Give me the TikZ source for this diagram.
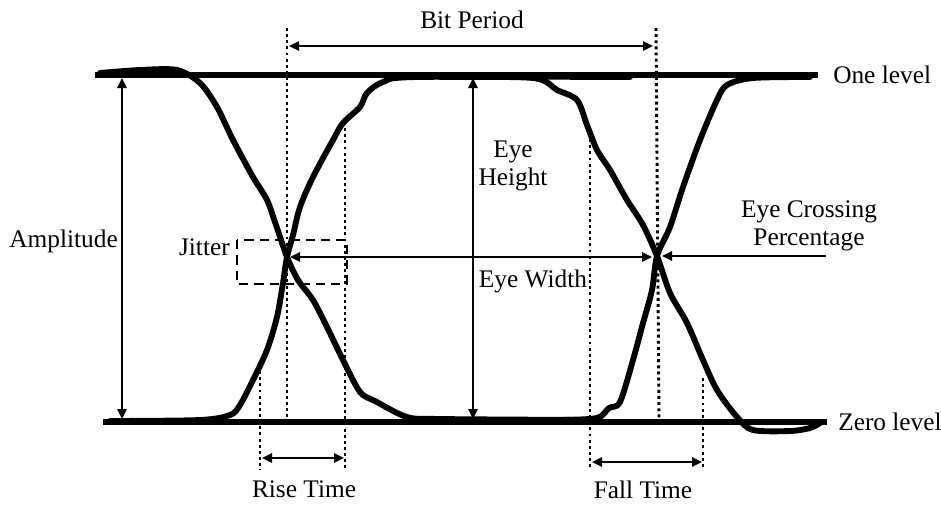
\documentclass[tikz,border=0pt]{standalone}
\usepackage{fontspec}
\setmainfont{Liberation Serif}
\usetikzlibrary{arrows.meta}

\begin{document}
\begin{tikzpicture}[
    x=0.75pt, y=-0.75pt,
    lbl/.style={font=\fontsize{19}{21}\selectfont, inner sep=0pt, align=center},
    level/.style={line width=4.2pt},
    trace/.style={line width=4.4pt, line join=round, line cap=round},
    guide/.style={line width=2.2pt, dash pattern=on 2.2pt off 2.4pt},
    box/.style={line width=1.8pt, dash pattern=on 7pt off 4.5pt},
    dim/.style={{Triangle[length=7.5pt,width=7pt]}-{Triangle[length=7.5pt,width=7pt]}, line width=1.5pt},
    one/.style={-{Triangle[length=7.5pt,width=7pt]}, line width=1.5pt}
]
\useasboundingbox (0,0) rectangle (941,504);

% levels
\coordinate (oneL) at (95,75);   \coordinate (oneR) at (818,75);
\coordinate (zeroL) at (103,422); \coordinate (zeroR) at (827,422);
\draw[level] (oneL) -- (oneR);
\draw[level] (zeroL) -- (zeroR);
\node[lbl, anchor=west] (onelbl) at (833,75) {One level};
\node[lbl, anchor=west] (zerolbl) at (838,422) {Zero level};

% eye traces
\draw[trace] plot[smooth, tension=0.5] coordinates {(100,73) (140,70) (177,70) (200,83) (217,107) (233,140)
  (253,177) (267,200) (276,225) (287,257) (298,280) (313,300) (327,327) (343,360) (360,392)
  (375,401) (407,417) (440,419) (590,420)};
\draw[trace] plot[smooth, tension=0.5] coordinates {(110,421) (200,420) (230,415) (240,405) (253,380)
  (267,350) (277,317) (283,283) (287,257) (293,235) (300,207) (313,177) (333,140) (343,123)
  (360,107) (367,93) (383,82) (417,77) (630,77)};
\draw[trace] plot[smooth, tension=0.5] coordinates {(440,77) (533,78) (557,90) (577,100) (587,125)
  (597,150) (610,170) (627,200) (643,225) (657,256) (670,293) (687,323) (703,360) (717,390)
  (737,417) (753,430) (790,431) (810,428) (820,423)};
\draw[trace] plot[smooth, tension=0.5] coordinates {(560,420) (597,418) (609,408) (620,402) (633,360)
  (643,323) (652,290) (657,256) (670,227) (683,187) (700,140) (717,100) (727,85) (753,78) (810,77)};

% guides
\draw[guide] (287,28) -- (287,418);
\draw[guide] (656,28) -- (659,418);
\draw[guide] (345,122) -- (345,470);
\draw[guide] (260,365) -- (260,470);
\draw[guide] (590,133) -- (590,470);
\draw[guide] (703,378) -- (703,470);

% dimensions
\coordinate (bpL) at (289,46);  \coordinate (bpR) at (653,46);
\draw[dim] (bpL) -- (bpR);
\node[lbl] (bitperiod) at (472,20) {Bit Period};

\coordinate (ampT) at (122,78); \coordinate (ampB) at (122,419);
\draw[dim] (ampT) -- (ampB);
\node[lbl, anchor=east] (amplitude) at (118,241) {Amplitude};

\coordinate (ehT) at (473,78); \coordinate (ehB) at (473,419);
\draw[dim] (ehT) -- (ehB);
\node[lbl] (eyeheight) at (513,166) {Eye\\Height};

\coordinate (ewL) at (290,257); \coordinate (ewR) at (652,257);
\draw[dim] (ewL) -- (ewR);
\node[lbl] (eyewidth) at (533,281) {Eye Width};

\coordinate (ecS) at (826,256); \coordinate (ecE) at (662,256);
\draw[one] (ecS) -- (ecE);
\node[lbl] (crossing) at (809,226) {Eye Crossing\\Percentage};

\coordinate (rtL) at (262,458); \coordinate (rtR) at (344,458);
\draw[dim] (rtL) -- (rtR);
\node[lbl] (risetime) at (304,489) {Rise Time};

\coordinate (ftL) at (592,462); \coordinate (ftR) at (702,462);
\draw[dim] (ftL) -- (ftR);
\node[lbl] (falltime) at (643,490) {Fall Time};

% jitter window
\draw[box] (237,240) rectangle (347,284);
\node[lbl, anchor=east] (jitter) at (230,247) {Jitter};
\end{tikzpicture}
\end{document}
